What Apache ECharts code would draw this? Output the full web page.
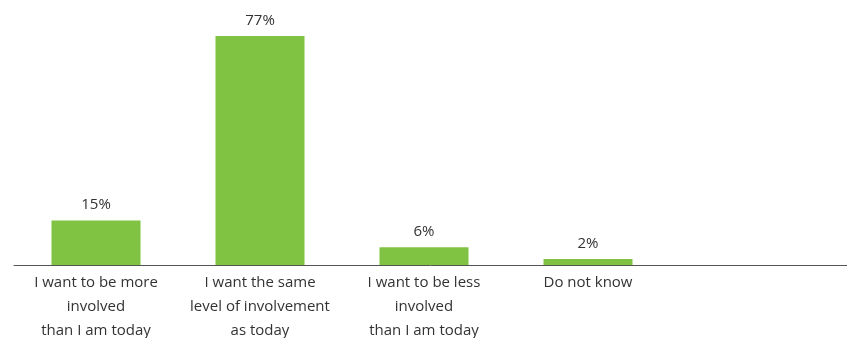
<!DOCTYPE html>
<html>
<head>
<meta charset="utf-8">
<script src="https://cdn.jsdelivr.net/npm/echarts@6/dist/echarts.min.js"></script>
<style>
  html, body { margin: 0; padding: 0; background: #ffffff; }
  #chart { width: 847px; height: 338px; }
</style>
</head>
<body>
<div id="chart"></div>
<script>
// Survey answers and their shares (%)
const categories = [
  'I want to be more\ninvolved\nthan I am today',
  'I want the same\nlevel of involvement\nas today',
  'I want to be less\ninvolved\nthan I am today',
  'Do not know',
  ''
];
const shares = [15, 77, 6, 2, null];

const chart = echarts.init(document.getElementById('chart'), null, { renderer: 'canvas' });

chart.setOption({
  animation: false,
  textStyle: { fontFamily: '"Open Sans", sans-serif' },
  grid: [
    { left: 14, right: 13, top: 27, bottom: 73, containLabel: false, outerBoundsMode: 'none' },
    // full-width baseline
    { left: 14, right: 0, top: 27, bottom: 73, containLabel: false, outerBoundsMode: 'none' }
  ],
  xAxis: [
    {
      type: 'category',
      gridIndex: 0,
      data: categories,
      axisLine: { show: false },
      axisTick: { show: false },
      axisLabel: {
        interval: 0,
        margin: 6,
        fontSize: 15,
        lineHeight: 24,
        color: '#333333',
        fontFamily: '"Open Sans", sans-serif'
      }
    },
    {
      type: 'value',
      gridIndex: 1,
      min: 0,
      max: 1,
      axisLine: { show: true, lineStyle: { color: '#555555', width: 1 } },
      axisTick: { show: false },
      axisLabel: { show: false },
      splitLine: { show: false }
    }
  ],
  yAxis: [
    { type: 'value', gridIndex: 0, min: 0, max: 80, show: false },
    { type: 'value', gridIndex: 1, min: 0, max: 80, show: false }
  ],
  series: [
    {
      type: 'bar',
      xAxisIndex: 0,
      yAxisIndex: 0,
      data: shares,
      barWidth: 89,
      itemStyle: { color: '#80c342' },
      label: {
        show: true,
        position: 'top',
        distance: 8,
        fontSize: 15,
        color: '#333333',
        fontFamily: '"Open Sans", sans-serif',
        formatter: p => p.value + '%'
      }
    }
  ]
});
</script>
</body>
</html>
